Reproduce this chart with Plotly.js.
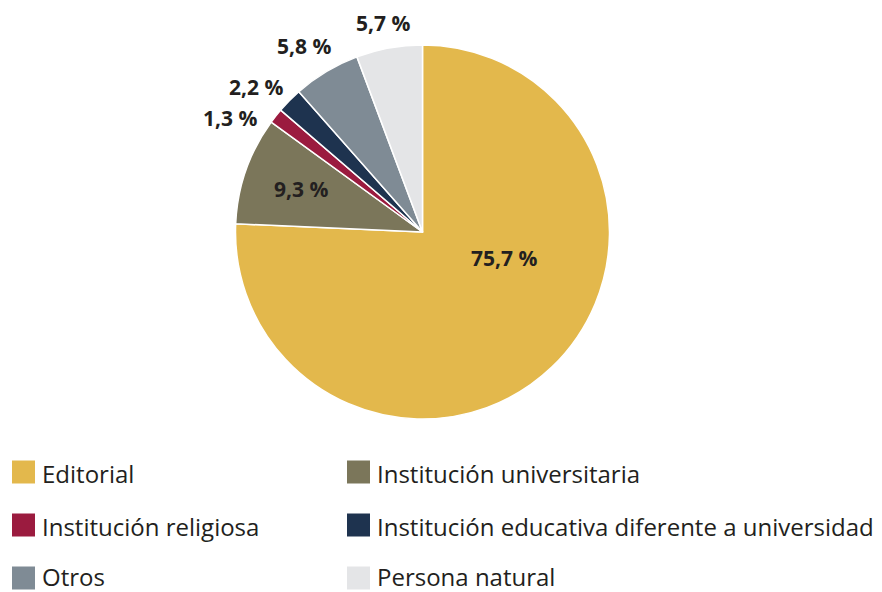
<!DOCTYPE html>
<html>
<head>
<meta charset="utf-8">
<script src="https://cdn.plot.ly/plotly-3.0.1.min.js"></script>
<style>html,body{margin:0;padding:0;background:#fff;}#chart{width:882px;height:592px;}</style>
</head>
<body>
<div id="chart"></div>
<script>
// ---- data ----
const categories = ['Editorial', 'Institución universitaria', 'Institución religiosa', 'Institución educativa diferente a universidad', 'Otros', 'Persona natural'];
const values = [75.7, 9.3, 1.3, 2.2, 5.8, 5.7];
const colors = ['#e3b84c', '#7b765a', '#9b1b3f', '#1e334f', '#7f8b95', '#e4e5e7'];

// ---- layout constants ----
const W = 882, H = 592;
const cx = 422.5, cy = 232, R = 187;
const labelRadius = [0.455, 0.69, 1.197, 1.182, 1.179, 1.137];
const labelAngleShift = [-28.5, 0, -7.8, -3.6, -1.5, -0.4];
const textColor = '#231f20';
const fontFam = '"Open Sans", "Noto Sans", sans-serif';

const total = values.reduce((a, b) => a + b, 0);
const annotations = [];
let cum = 0;
values.forEach((v, i) => {
  const mid = (cum + v / 2) / total * 360 + labelAngleShift[i];
  cum += v;
  const a = mid * Math.PI / 180;
  const r = R * labelRadius[i];
  const px = cx + r * Math.sin(a);
  const py = cy - r * Math.cos(a);
  annotations.push({
    xref: 'paper', yref: 'paper', x: px / W, y: 1 - py / H,
    xanchor: 'center', yanchor: 'middle', showarrow: false,
    text: '<b>' + v.toFixed(1).replace('.', ',') + ' %</b>',
    font: {family: fontFam, size: 21, color: textColor}
  });
});

// legend (2 columns x 3 rows)
const shapes = [];
const colX = [12, 347];
const rowY = [472, 525, 578];
const textY = [473, 526, 576];
const sw = 23;
categories.forEach((c, i) => {
  const col = i % 2, row = Math.floor(i / 2);
  const x0 = colX[col], yc = rowY[row];
  shapes.push({
    type: 'rect', xref: 'paper', yref: 'paper',
    x0: x0 / W, x1: (x0 + sw) / W, y0: 1 - (yc + sw / 2) / H, y1: 1 - (yc - sw / 2) / H,
    fillcolor: colors[i], line: {width: 0}
  });
  annotations.push({
    xref: 'paper', yref: 'paper', x: (x0 + 29) / W, y: 1 - textY[row] / H,
    xanchor: 'left', yanchor: 'middle', showarrow: false, borderpad: 0,
    text: c, font: {family: fontFam, size: 24, color: textColor}
  });
});

const trace = {
  type: 'pie',
  labels: categories,
  values: values,
  sort: false,
  direction: 'clockwise',
  rotation: 0,
  marker: {colors: colors, line: {color: '#ffffff', width: 1.5}},
  textinfo: 'none',
  hoverinfo: 'label+percent',
  showlegend: false,
  domain: {x: [(cx - R) / W, (cx + R) / W], y: [1 - (cy + R) / H, 1 - (cy - R) / H]}
};

const layout = {
  width: W, height: H,
  margin: {l: 0, r: 0, t: 0, b: 0},
  paper_bgcolor: '#ffffff',
  plot_bgcolor: '#ffffff',
  showlegend: false,
  annotations: annotations,
  shapes: shapes,
  font: {family: fontFam, color: textColor}
};

Plotly.newPlot('chart', [trace], layout, {displayModeBar: false, staticPlot: true});
</script>
</body>
</html>
